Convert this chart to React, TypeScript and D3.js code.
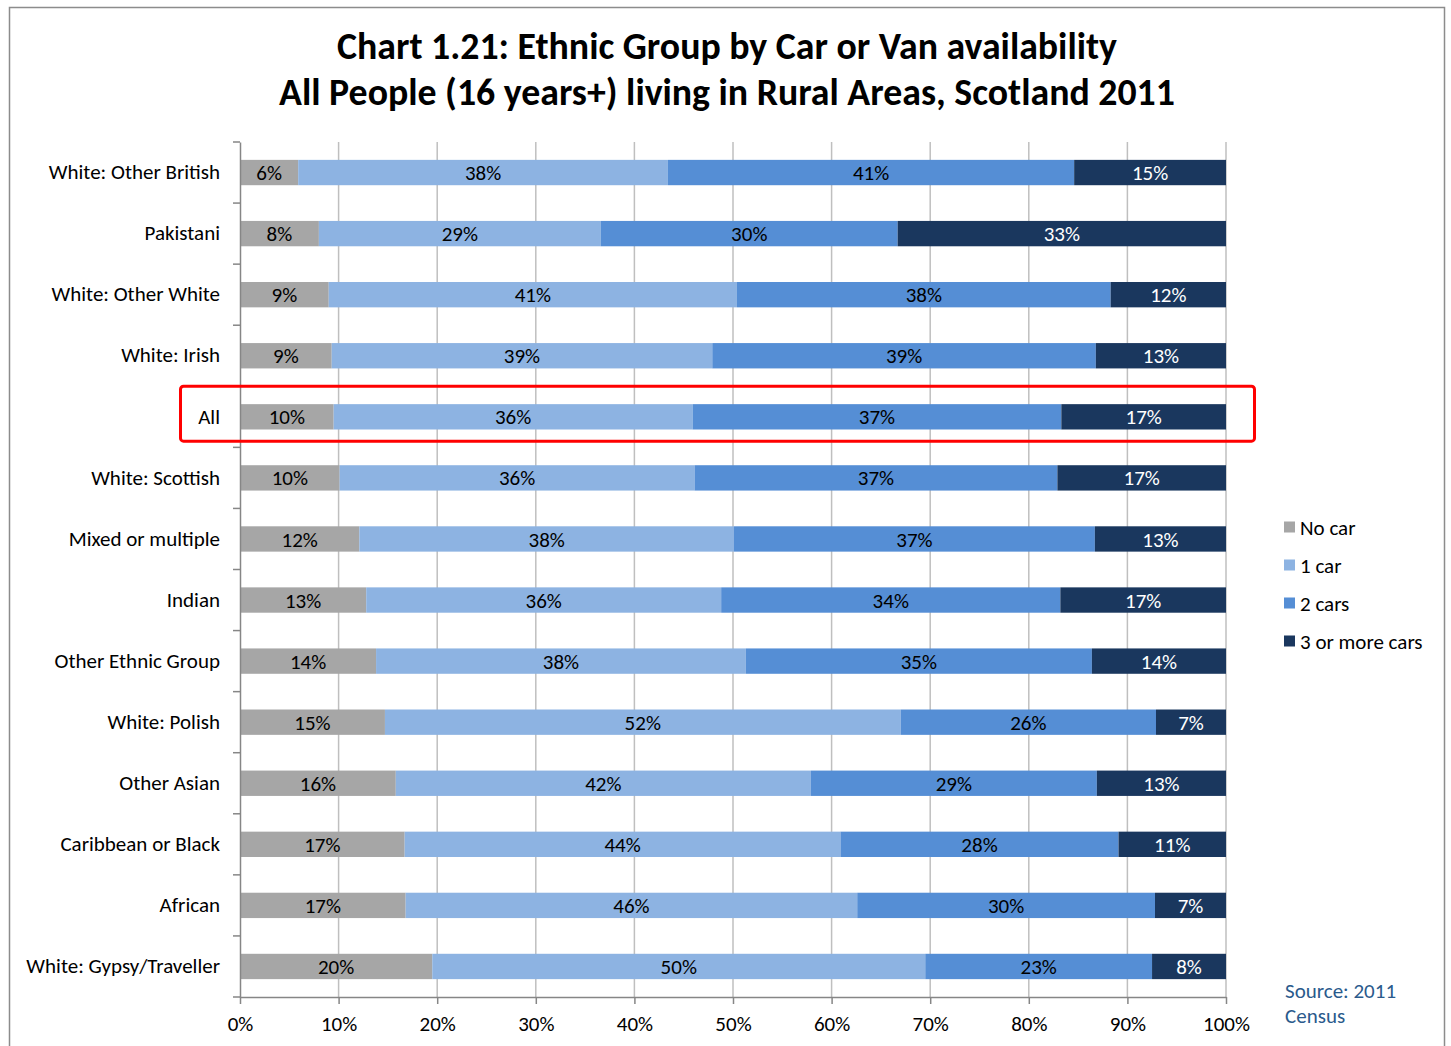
import { useEffect, useRef } from "react";
import * as d3 from "d3";

const categories = [
  "White: Other British",
  "Pakistani",
  "White: Other White",
  "White: Irish",
  "All",
  "White: Scottish",
  "Mixed or multiple",
  "Indian",
  "Other Ethnic Group",
  "White: Polish",
  "Other Asian",
  "Caribbean or Black",
  "African",
  "White: Gypsy/Traveller",
];

const seriesNames = ["No car", "1 car", "2 cars", "3 or more cars"];

// percent of people in each group
const noCar = [5.9, 8.0, 9.0, 9.3, 9.5, 10.1, 12.1, 12.8, 13.8, 14.7, 15.8, 16.7, 16.8, 19.5];
const oneCar = [37.5, 28.6, 41.4, 38.6, 36.4, 36.0, 38.0, 36.0, 37.5, 52.3, 42.1, 44.2, 45.8, 50.0];
const twoCars = [41.2, 30.1, 37.9, 38.9, 37.4, 36.8, 36.6, 34.4, 35.1, 25.9, 29.0, 28.2, 30.2, 23.0];
const threePlus = [15.4, 33.3, 11.7, 13.2, 16.7, 17.1, 13.3, 16.8, 13.6, 7.1, 13.1, 10.9, 7.2, 7.5];

const xTicks = [0, 10, 20, 30, 40, 50, 60, 70, 80, 90, 100];

const colors = ["#a6a6a6", "#8db3e2", "#558ed5", "#1a375e"];
const font = "Calibri, Carlito, 'Open Sans', sans-serif";
const fs = 21;

const App = () => {
  const svgRef = useRef(null);

  useEffect(() => {
    const svg = d3.select(svgRef.current);
    svg.selectAll("*").remove();

    const width = 1451;
    const height = 1046;
    const margin = { top: 142, left: 240, right: 225, bottom: 49 };

    const rows = categories.map((c, i) => ({
      category: c,
      "No car": noCar[i],
      "1 car": oneCar[i],
      "2 cars": twoCars[i],
      "3 or more cars": threePlus[i],
    }));

    const stacked = d3.stack().keys(seriesNames)(rows);

    const x = d3.scaleLinear().domain([0, 100]).range([margin.left, width - margin.right]);
    const y = d3
      .scaleBand()
      .domain(categories)
      .range([margin.top, height - margin.bottom])
      .paddingInner(0.585)
      .paddingOuter(0.2925);
    const color = d3.scaleOrdinal().domain(seriesNames).range(colors);

    // outer frame
    svg.append("rect")
      .attr("x", 9.5).attr("y", 7.5)
      .attr("width", 1435).attr("height", 1060)
      .attr("fill", "white").attr("stroke", "#8c8c8c").attr("stroke-width", 1.5);

    // title
    const title = svg.append("text")
      .attr("text-anchor", "middle")
      .attr("font-family", font)
      .attr("font-weight", "bold")
      .attr("font-size", 37.8)
      .attr("fill", "#000");
    title.append("tspan").attr("x", 727).attr("y", 59)
      .text("Chart 1.21: Ethnic Group by Car or Van availability");
    title.append("tspan").attr("x", 727).attr("y", 105)
      .text("All People (16 years+) living in Rural Areas, Scotland 2011");

    // gridlines
    svg.append("g")
      .selectAll("line")
      .data(xTicks.slice(1))
      .join("line")
      .attr("x1", d => x(d)).attr("x2", d => x(d))
      .attr("y1", margin.top).attr("y2", height - margin.bottom)
      .attr("stroke", "#bfbfbf").attr("stroke-width", 1.5);

    // bars
    svg.append("g")
      .selectAll("g")
      .data(stacked)
      .join("g")
      .attr("fill", d => color(d.key))
      .selectAll("rect")
      .data(d => d)
      .join("rect")
      .attr("x", d => x(d[0]))
      .attr("y", d => y(d.data.category))
      .attr("width", d => x(d[1]) - x(d[0]))
      .attr("height", y.bandwidth());

    // data labels
    svg.append("g")
      .selectAll("g")
      .data(stacked)
      .join("g")
      .attr("fill", d => (d.key === "3 or more cars" ? "#ffffff" : "#000000"))
      .selectAll("text")
      .data(d => d)
      .join("text")
      .attr("x", d => (x(d[0]) + x(d[1])) / 2)
      .attr("y", d => y(d.data.category) + y.bandwidth() / 2)
      .attr("dy", "0.36em")
      .attr("text-anchor", "middle")
      .attr("font-family", font)
      .attr("font-size", fs)
      .text(d => `${Math.round(d[1] - d[0])}%`);

    // y axis
    const yAxis = d3.axisLeft(y).tickSize(0).tickPadding(20);
    const gy = svg.append("g")
      .attr("transform", `translate(${margin.left},0)`)
      .call(yAxis);
    gy.select(".domain").attr("stroke", "#868686").attr("stroke-width", 1.5);
    gy.selectAll("text")
      .attr("font-family", font)
      .attr("font-size", fs)
      .attr("fill", "#000");
    gy.append("g")
      .selectAll("line")
      .data(d3.range(categories.length + 1))
      .join("line")
      .attr("x1", -7).attr("x2", 0)
      .attr("y1", i => margin.top + i * y.step())
      .attr("y2", i => margin.top + i * y.step())
      .attr("stroke", "#868686").attr("stroke-width", 1.5);

    // x axis
    const xAxis = d3.axisBottom(x)
      .tickValues(xTicks)
      .tickSize(7)
      .tickSizeOuter(0)
      .tickPadding(12)
      .tickFormat(d => `${d}%`);
    const gx = svg.append("g")
      .attr("transform", `translate(0,${height - margin.bottom})`)
      .call(xAxis);
    gx.select(".domain").attr("stroke", "#868686").attr("stroke-width", 1.5);
    gx.selectAll(".tick line").attr("stroke", "#868686").attr("stroke-width", 1.5);
    gx.selectAll("text")
      .attr("font-family", font)
      .attr("font-size", fs)
      .attr("fill", "#000");

    // highlight box round "All"
    const allY = y("All");
    svg.append("rect")
      .attr("x", 180.5)
      .attr("y", allY - 18)
      .attr("width", 1074)
      .attr("height", 55)
      .attr("rx", 3)
      .attr("fill", "none")
      .attr("stroke", "#ff0000")
      .attr("stroke-width", 3);

    // legend
    const legend = svg.append("g")
      .selectAll("g")
      .data(seriesNames)
      .join("g")
      .attr("transform", (d, i) => `translate(1284,${527 + i * 38})`);
    legend.append("rect")
      .attr("x", 0).attr("y", -5.5)
      .attr("width", 11).attr("height", 11)
      .attr("fill", d => color(d));
    legend.append("text")
      .attr("x", 16)
      .attr("dy", "0.36em")
      .attr("font-family", font)
      .attr("font-size", fs)
      .attr("fill", "#000")
      .text(d => d);

    // source note
    const source = svg.append("text")
      .attr("font-family", font)
      .attr("font-size", fs)
      .attr("fill", "#2a5a8c");
    source.append("tspan").attr("x", 1285).attr("y", 998).text("Source: 2011");
    source.append("tspan").attr("x", 1285).attr("y", 1023).text("Census");
  }, []);

  return (
    <svg
      ref={svgRef}
      width={1451}
      height={1046}
      style={{ position: "absolute", left: 0, top: 0, background: "white" }}
    ></svg>
  );
};

export default App;
